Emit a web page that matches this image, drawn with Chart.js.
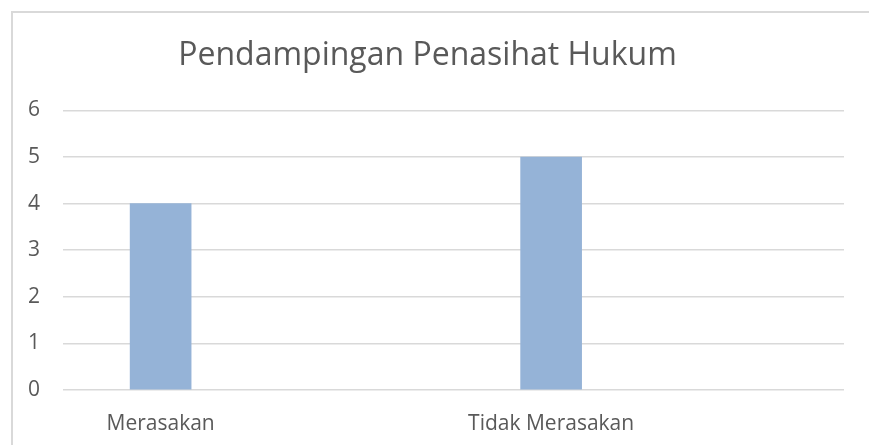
<!DOCTYPE html>
<html>
<head>
<meta charset="utf-8">
<script src="https://cdn.jsdelivr.net/npm/chart.js@4"></script>
<style>
  html, body { margin: 0; padding: 0; background: #ffffff; overflow: hidden; }
  canvas { display: block; }
</style>
</head>
<body>
<canvas id="c" width="869" height="445"></canvas>
<script>
const chartTitle = "Pendampingan Penasihat Hukum";
const categories = ["Merasakan", "Tidak Merasakan"];
const values = [4, 5];
const yTicks = [0, 1, 2, 3, 4, 5, 6];

const textColor = "#595959";
const fontFamily = "'Open Sans', sans-serif";

const framePlugin = {
  id: "frame",
  beforeDraw(chart) {
    const ctx = chart.ctx;
    ctx.save();
    ctx.fillStyle = "#d9d9d9";
    ctx.fillRect(11, 11, chart.width - 11, 2);
    ctx.fillRect(11, 11, 2, chart.height - 11);
    ctx.restore();
  }
};

new Chart(document.getElementById("c"), {
  type: "bar",
  data: {
    datasets: [{
      data: values.map((v, i) => ({ x: i, y: v })),
      backgroundColor: "#95b3d7",
      borderWidth: 0,
      barThickness: 61
    }]
  },
  options: {
    responsive: false,
    animation: false,
    layout: { padding: { left: 11, right: 25, top: 0, bottom: 0 } },
    plugins: {
      legend: { display: false },
      tooltip: { enabled: false },
      title: {
        display: true,
        text: chartTitle,
        color: textColor,
        font: { family: fontFamily, size: 32, weight: "normal" },
        padding: { top: 37, bottom: 35 }
      }
    },
    scales: {
      x: {
        type: "linear",
        offset: false,
        min: -0.25,
        max: 1.75,
        grid: { display: false },
        border: { display: false },
        afterBuildTicks: (scale) => { scale.ticks = categories.map((c, i) => ({ value: i })); },
        afterFit: (scale) => { scale.height = 55; },
        ticks: {
          color: textColor,
          font: { family: fontFamily, size: 21 },
          padding: 13,
          maxRotation: 0,
          autoSkip: false,
          callback: (v) => categories[v]
        }
      },
      y: {
        min: yTicks[0],
        max: yTicks[yTicks.length - 1],
        afterBuildTicks: (scale) => { scale.ticks = yTicks.map(v => ({ value: v })); },
        afterFit: (scale) => { scale.width = 52; },
        grid: { color: "#d9d9d9", lineWidth: 1.5, drawTicks: false },
        border: { display: false },
        ticks: {
          color: textColor,
          font: { family: fontFamily, size: 21 },
          padding: 23
        }
      }
    }
  },
  plugins: [framePlugin]
});
</script>
</body>
</html>
